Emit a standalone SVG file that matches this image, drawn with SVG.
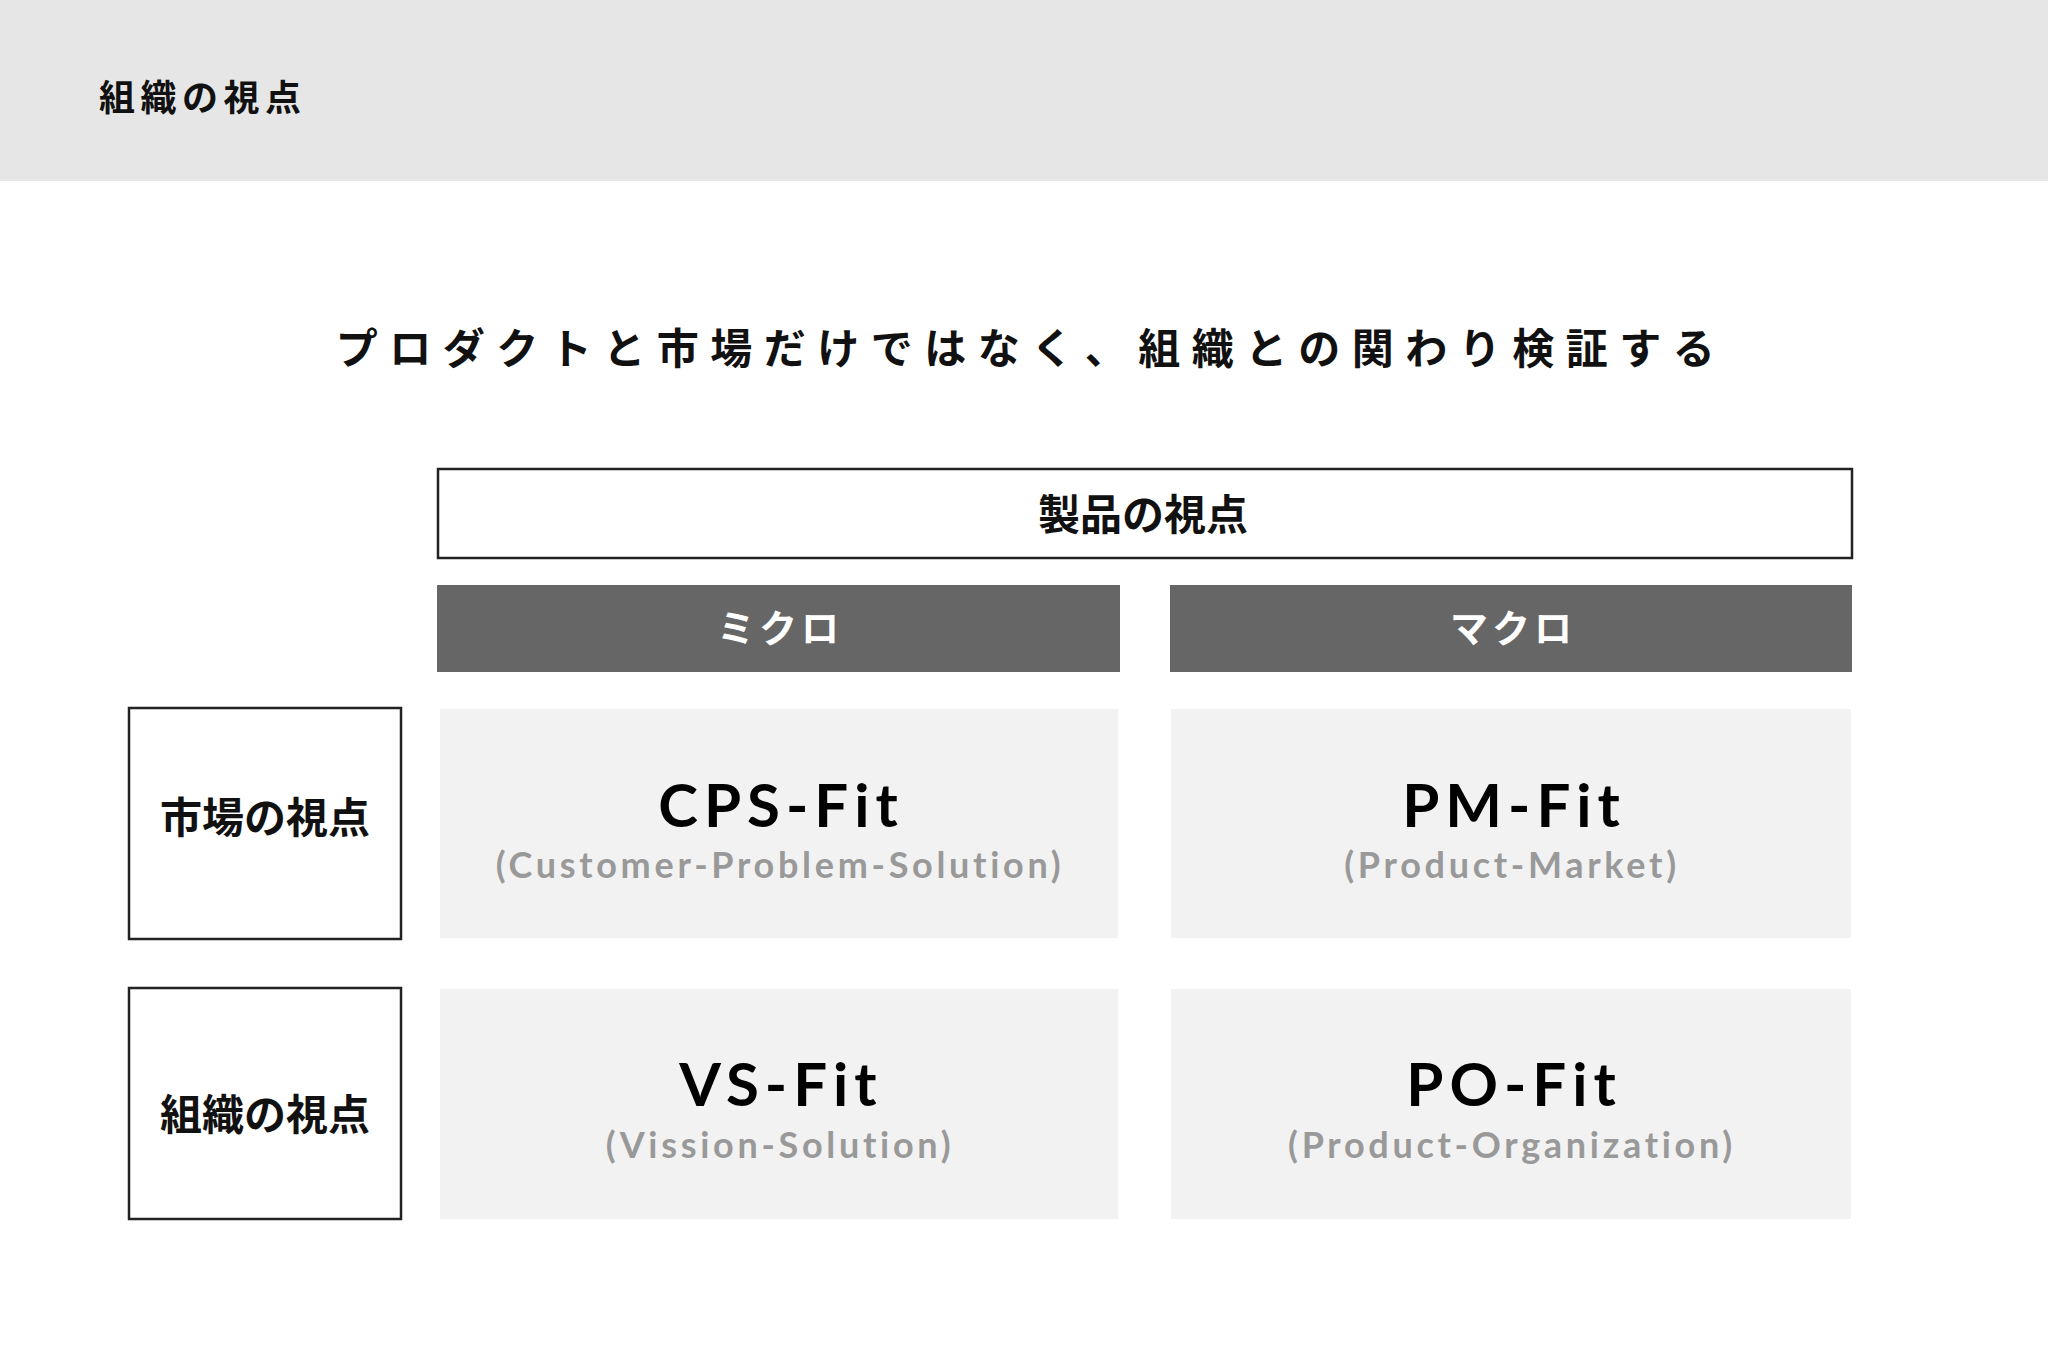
<svg xmlns="http://www.w3.org/2000/svg" width="2048" height="1365" viewBox="0 0 2048 1365">
<style>
.jp{font-family:"Noto Sans CJK JP","Noto Sans",sans-serif;}
.hdr{font-size:36px;font-weight:700;fill:#111;letter-spacing:5.5px;}
.lead{font-size:42px;font-weight:700;fill:#111;letter-spacing:11.5px;}
.lbl{font-size:42px;font-weight:700;fill:#111;}
.bar{fill:#666666;}
.bartxt{font-size:38px;font-weight:700;fill:#ffffff;letter-spacing:4px;}
.frame{fill:#ffffff;stroke:#222;stroke-width:2.5;}
.cell{fill:#f2f2f2;}
.fit{font-family:Lato,"Liberation Sans",sans-serif;font-size:60px;font-weight:700;fill:#000;letter-spacing:6px;}
.sub{font-family:Lato,"Liberation Sans",sans-serif;font-size:36px;font-weight:700;fill:#999;letter-spacing:3.7px;}
</style>
<rect x="0" y="0" width="2048" height="1365" fill="#ffffff"/>
<g id="header">
<rect x="0" y="0" width="2048" height="181" fill="#e6e6e6"/>
<text class="jp hdr" x="99" y="111">組織の視点</text>
</g>
<g id="lead">
<text class="jp lead" x="1031" y="364" text-anchor="middle">プロダクトと市場だけではなく、組織との関わり検証する</text>
</g>
<g id="product-view">
<rect class="frame" x="438" y="469" width="1414" height="89"/>
<text class="jp lbl" x="1143" y="530" text-anchor="middle">製品の視点</text>
</g>
<g id="micro">
<rect class="bar" x="437" y="585" width="683" height="87"/>
<text class="jp bartxt" x="780" y="642" text-anchor="middle">ミクロ</text>
</g>
<g id="macro">
<rect class="bar" x="1170" y="585" width="682" height="87"/>
<text class="jp bartxt" x="1513" y="642" text-anchor="middle">マクロ</text>
</g>
<g id="market-view">
<rect class="frame" x="129" y="708" width="272" height="231"/>
<text class="jp lbl" x="265" y="833" text-anchor="middle">市場の視点</text>
</g>
<g id="org-view">
<rect class="frame" x="129" y="988" width="272" height="231"/>
<text class="jp lbl" x="265" y="1130" text-anchor="middle">組織の視点</text>
</g>
<g id="cps-fit">
<rect class="cell" x="440" y="709" width="678" height="229"/>
<text class="fit" x="781" y="827" text-anchor="middle">CPS-Fit</text>
<text class="sub" x="780" y="878" text-anchor="middle">(Customer-Problem-Solution)</text>
</g>
<g id="pm-fit">
<rect class="cell" x="1171" y="709" width="680" height="229"/>
<text class="fit" x="1514" y="827" text-anchor="middle">PM-Fit</text>
<text class="sub" x="1512" y="878" text-anchor="middle">(Product-Market)</text>
</g>
<g id="vs-fit">
<rect class="cell" x="440" y="989" width="678" height="230"/>
<text class="fit" x="781" y="1106" text-anchor="middle">VS-Fit</text>
<text class="sub" x="780" y="1158" text-anchor="middle">(Vission-Solution)</text>
</g>
<g id="po-fit">
<rect class="cell" x="1171" y="989" width="680" height="230"/>
<text class="fit" x="1514" y="1106" text-anchor="middle">PO-Fit</text>
<text class="sub" x="1512" y="1158" text-anchor="middle">(Product-Organization)</text>
</g>
<g id="connectors"></g>
</svg>
